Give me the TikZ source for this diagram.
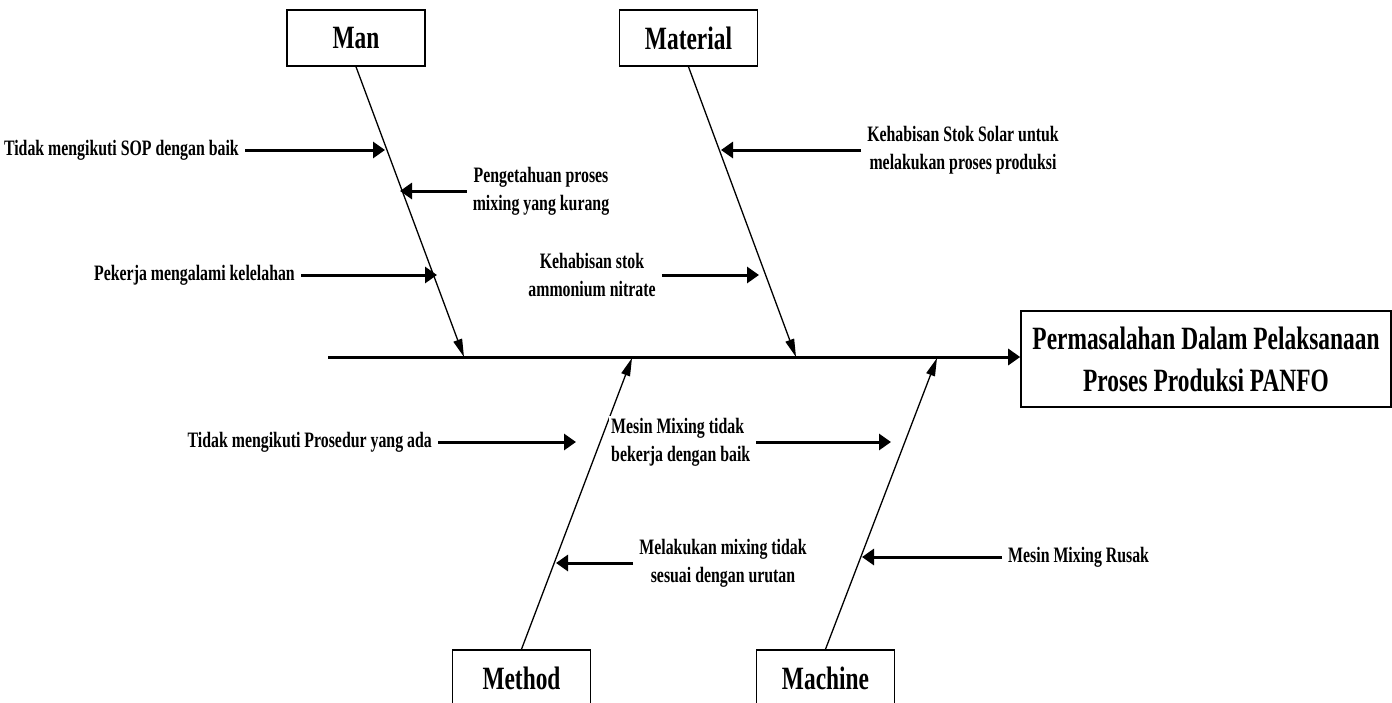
\documentclass[tikz,border=0pt]{standalone}
\usepackage{fontspec}
\setmainfont{Liberation Serif}[FakeStretch=0.72]
\usetikzlibrary{arrows.meta}
\begin{document}
\begin{tikzpicture}[x=1pt,y=-1pt,
  catbox/.style={draw, line width=1.6pt, minimum width=138pt, minimum height=56pt, inner sep=0pt, font=\fontsize{32.5}{40}\selectfont\bfseries},
  effectbox/.style={draw, line width=1.6pt, minimum width=370pt, minimum height=96pt, inner sep=0pt, align=center, font=\fontsize{32.5}{42}\selectfont\bfseries},
  causetxt/.style={inner sep=2pt, align=center, font=\fontsize{22}{28}\selectfont\bfseries},
  bone/.style={line width=1.3pt, -{Triangle[length=18pt,width=9pt]}},
  spine/.style={line width=3pt, -{Triangle[length=12pt,width=16pt]}},
  causearrow/.style={line width=3pt, shorten <=4pt, -{Triangle[length=12pt,width=16pt]}},
]
\useasboundingbox (0,0) rectangle (1392,702);
% categories and effect
\node[catbox] (man) at (356,38) {Man};
\node[catbox] (material) at (688.5,38) {Material};
\node[catbox] (method) at (521.5,678) {Method};
\node[catbox] (machine) at (825.5,678) {Machine};
\node[effectbox] (effect) at (1206,359) {Permasalahan Dalam Pelaksanaan\\Proses Produksi PANFO};
% spine
\coordinate (s0) at (328,357);
\draw[spine] (s0) -- (s0 -| effect.west);
% bone end points on the spine
\coordinate (manend) at (464,357);
\coordinate (matend) at (796,357);
\coordinate (metend) at (632,358);
\coordinate (macend) at (937,358);
\draw[bone] (man.south) -- (manend);
\draw[bone] (material.south) -- (matend);
\draw[bone] (method.north) -- (metend);
\draw[bone] (machine.north) -- (macend);
% causes
\node[causetxt, anchor=east] (c1) at (241,150) {Tidak mengikuti SOP dengan baik};
\coordinate (c1e) at (385,150);
\draw[causearrow] (c1) -- (c1e);
\node[causetxt] (c2) at (541,191) {Pengetahuan proses\\mixing yang kurang};
\coordinate (c2e) at (400,191);
\draw[causearrow] (c2) -- (c2e);
\node[causetxt, anchor=east] (c3) at (297,275) {Pekerja mengalami kelelahan};
\coordinate (c3e) at (437,275);
\draw[causearrow] (c3) -- (c3e);
\node[causetxt] (c4) at (592,275) {Kehabisan stok\\ammonium nitrate};
\coordinate (c4e) at (759,275);
\draw[causearrow] (c4) -- (c4e);
\node[causetxt] (c5) at (963,150) {Kehabisan Stok Solar untuk\\melakukan proses produksi};
\coordinate (c5e) at (721,150);
\draw[causearrow] (c5) -- (c5e);
\node[causetxt, anchor=east] (c6) at (434,442) {Tidak mengikuti Prosedur yang ada};
\coordinate (c6e) at (576,442);
\draw[causearrow] (c6) -- (c6e);
\node[causetxt, anchor=west, align=left, fill=white] (c7) at (609,442) {Mesin Mixing tidak\\bekerja dengan baik};
\coordinate (c7e) at (891,442);
\draw[causearrow] (c7) -- (c7e);
\node[causetxt] (c8) at (723,563) {Melakukan mixing tidak\\sesuai dengan urutan};
\coordinate (c8e) at (556,563);
\draw[causearrow] (c8) -- (c8e);
\node[causetxt, anchor=west] (c9) at (1006,557) {Mesin Mixing Rusak};
\coordinate (c9e) at (862,557);
\draw[causearrow] (c9) -- (c9e);
\end{tikzpicture}
\end{document}
